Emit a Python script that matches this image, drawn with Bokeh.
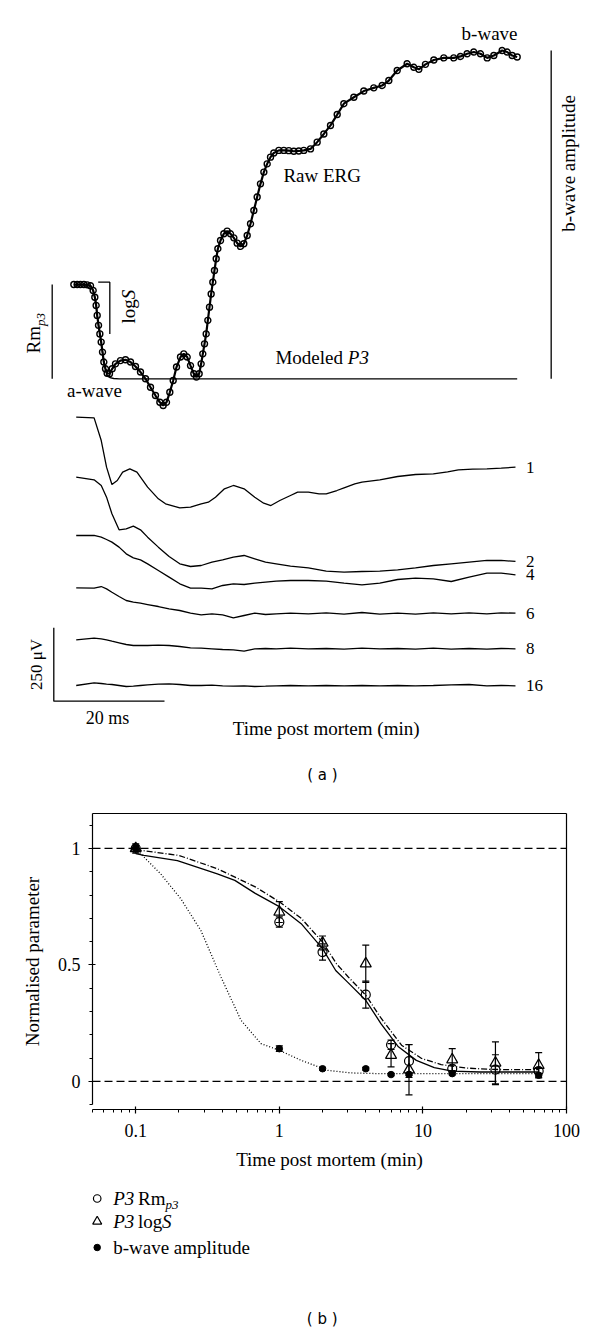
import numpy as np
from bokeh.plotting import figure
from bokeh.models import (Range1d, ColumnDataSource, Whisker, Span, FixedTicker,
                          CustomJSTickFormatter, LinearAxis, TeeHead)
from bokeh.layouts import column
from bokeh.embed import file_html
from bokeh.resources import INLINE
from bokeh.core.properties import value

SERIF = "Liberation Serif"

# ---------------- Panel (a) data: time (ms), voltage (uV) ----------------
raw_t = [-0.21, 0.4, 0.99, 1.6, 2.20, 2.80, 3.28, 3.58, 3.82, 4.01, 4.25, 4.49, 4.73, 4.97, 5.21, 5.51,
         5.81, 6.23, 6.72, 7.32, 8.22, 9.12, 10.03, 10.93, 11.83, 12.74, 13.64, 14.54, 15.33,
         15.93, 16.53, 17.13, 17.74, 18.34, 19.06, 19.66, 20.27, 20.87, 21.47, 21.95, 22.43,
         22.79, 23.09, 23.40, 23.70, 24.00, 24.30, 24.60, 24.90, 25.20, 25.51, 25.81, 26.29,
         26.89, 27.49, 28.09, 28.70, 29.30, 29.90, 30.50, 31.11, 31.71, 32.31, 32.91, 33.51,
         34.12, 34.72, 35.32, 35.92, 36.83, 37.73, 38.63, 39.53, 40.43, 41.34, 42.55, 43.75,
         44.96, 46.16, 47.37, 48.57, 50.38, 52.18, 53.99, 55.50, 56.70, 58.21, 60.01, 61.22,
         62.12, 63.32, 64.83, 66.64, 68.44, 69.65, 70.85, 72.06, 73.26, 74.47, 75.67, 77.18,
         78.08, 78.98, 79.89]
raw_v = [321, 321, 321, 321, 320, 317, 301, 278, 250, 216, 182, 153, 125, 91, 57, 34, 19, 17, 34,
         51, 62, 65, 57, 42, 23, 0, -29, -57, -80, -91, -80, -46, -6, 40, 74, 85, 74, 45, 17, 6,
         17, 51, 85, 119, 153, 199, 244, 289, 329, 369, 409, 443, 471, 494, 503, 494, 480, 462,
         451, 460, 488, 528, 573, 619, 664, 704, 732, 755, 769, 778, 778, 777, 775, 776, 778,
         783, 806, 834, 863, 900, 937, 959, 980, 991, 999, 1016, 1050, 1073, 1061, 1054, 1071,
         1086, 1093, 1093, 1098, 1107, 1113, 1107, 1093, 1101, 1118, 1113, 1101, 1096]

p3_t = [-0.21, 2.20, 2.80, 3.28, 3.58, 3.82, 4.01, 4.25, 4.49, 4.73, 4.97, 5.21, 5.51, 5.81,
        6.3, 7.0, 8.0, 10.0, 79.89]
p3_v = [321, 320, 317, 301, 278, 250, 216, 182, 153, 125, 91, 57, 30, 12, 4, 1, 0, 0, 0]

trace1_t = [0.22, 3.45, 4.74, 5.70, 6.67, 7.64, 8.61, 9.90, 11.19, 13.12, 15.06, 16.35, 18.93,
            20.87, 22.80, 24.09, 25.38, 27.00, 28.61, 30.55, 32.48, 34.09, 35.39, 37.00, 38.93,
            40.22, 42.16, 44.10, 45.39, 47.32, 48.61, 50.55, 51.84, 55.07, 58.29, 61.52, 64.74,
            67.32, 69.26, 71.84, 74.42, 77.00, 79.58]
trace1_v = [0, -2.3, -79.5, -170.3, -229.3, -215.7, -187.3, -176, -187.3, -238.4, -278.1,
            -295.2, -308.8, -306.5, -295.2, -289.5, -272.5, -244.1, -232.7, -244.1, -272.5,
            -292.9, -300.9, -283.8, -266.8, -255.4, -255.4, -261.1, -261.1, -249.8, -240.7,
            -227.1, -221.4, -213.4, -202.1, -195.3, -193, -186.2, -179.4, -177.1, -176, -173.7,
            -170.3]

grid_t = [0.22, 3.45, 4.74, 5.70, 6.67, 7.96, 9.25, 10.54, 11.83, 13.12, 15.06, 17.00, 18.93,
          20.87, 22.80, 24.74, 26.67, 28.61, 30.55, 32.48, 34.42, 36.35, 38.93, 42.16, 45.39,
          48.61, 51.84, 55.07, 58.29, 61.52, 64.74, 67.97, 71.20, 74.42, 77.00, 79.58]
trace2_v = [0, -9.1, -28.4, -68.1, -124.9, -179.4, -176, -166.9, -179.4, -204.4, -238.4, -270.2,
            -295.2, -304.3, -300.9, -289.5, -281.6, -272.5, -266.8, -278.1, -289.5, -295.2,
            -303.1, -308.8, -320.2, -323.6, -321.3, -320.2, -315.6, -308.8, -300.9, -295.2,
            -289.5, -283.8, -283.8, -287.2]
trace4_v = [0, 0, -5.7, -13.6, -22.7, -39.7, -62.4, -76.1, -82.9, -96.5, -119.2, -141.9, -164.6,
            -179.4, -179.4, -181.6, -170.3, -164.6, -166.9, -162.3, -158.9, -155.5, -153.3,
            -153.3, -155.5, -162.3, -168, -162.3, -149.9, -145.3, -147.6, -156.7, -141.9,
            -128.3, -128.3, -134]
trace6_v = [0, -1.1, 4.5, -3.4, -14.8, -29.5, -43.1, -48.8, -52.2, -56.8, -63.6, -71.5, -77.2,
            -86.3, -92, -88.6, -92, -102.2, -94.2, -86.3, -90.8, -88.6, -86.3, -88.6, -85.1,
            -89.7, -84, -89.7, -86.3, -89.7, -85.1, -88.6, -85.1, -88.6, -85.1, -86.3]
trace8_v = [0, 5.7, 3.4, 0, -4.5, -10.2, -15.9, -19.3, -19.3, -19.3, -18.2, -19.3, -22.7, -27.2,
            -28.4, -30.7, -32.9, -34.1, -38.6, -30.7, -29.5, -30.7, -28.4, -30.7, -29.5, -31.8,
            -28.4, -30.7, -29.5, -31.8, -28.4, -31.8, -29.5, -31.8, -29.5, -30.7]
trace16_v = [0, 9.1, 6.8, 4.5, 3.4, 0, -3.4, -2.3, 0, 2.3, 4.5, 5.7, 3.4, 0, 0, 1.1, -1.1, -2.3,
             -1.1, -3.4, -2.3, -1.1, 0, -1.1, 0, -1.1, 0, -1.1, 0, -1.1, 0, 2.3, 3.4, -1.1, 0,
             -1.1]
trace_labels = ["1", "2", "4", "6", "8", "16"]
scale_ms = 20
scale_uv = 250

# ---------------- Panel (b) data ----------------
times = [0.1, 1, 2, 4, 6, 8, 16, 32, 64]
rm_mean = [1.0, 0.684, 0.555, 0.372, 0.157, 0.087, 0.054, 0.050, 0.044]
rm_sem = [0.012, 0.022, 0.035, 0.058, 0.020, 0.070, 0.015, 0.064, 0.015]
logs_mean = [1.0, 0.727, 0.594, 0.505, 0.112, 0.050, 0.093, 0.079, 0.069]
logs_sem = [0.02, 0.045, 0.030, 0.080, 0.050, 0.108, 0.047, 0.090, 0.054]
bwave_times = [0.1, 1, 2, 4, 6, 8, 16, 64]
bwave_mean = [1.0, 0.140, 0.054, 0.054, 0.029, 0.030, 0.033, 0.026]
bwave_sem = [0.005, 0.012, 0.006, 0.006, 0.005, 0.005, 0.005, 0.008]

fit_rm_x = [0.1, 0.114, 0.195, 0.37, 0.49, 0.68, 1.0, 1.42, 2.0, 2.47, 3.0, 4.0, 5.1, 6.75,
            9.0, 12.0, 16, 25, 40, 64]
fit_rm_y = [0.978, 0.970, 0.948, 0.891, 0.863, 0.807, 0.750, 0.677, 0.570, 0.476, 0.425,
            0.348, 0.248, 0.148, 0.090, 0.059, 0.044, 0.040, 0.040, 0.040]
fit_logs_x = [0.1, 0.2, 0.37, 0.68, 1.0, 1.42, 2.0, 2.5, 3.0, 4.0, 5.1, 7.1, 9.8, 13.4, 20, 30,
              45, 64]
fit_logs_y = [0.995, 0.970, 0.913, 0.835, 0.771, 0.700, 0.598, 0.505, 0.45, 0.370, 0.272,
              0.155, 0.098, 0.072, 0.057, 0.051, 0.050, 0.050]
fit_bw_x = [0.1, 0.108, 0.149, 0.206, 0.284, 0.392, 0.541, 0.745, 1.0, 1.42, 2.18, 3.16, 5,
            10, 20, 40, 64]
fit_bw_y = [1.0, 0.978, 0.891, 0.784, 0.648, 0.448, 0.262, 0.162, 0.133, 0.090, 0.047, 0.036,
            0.033, 0.033, 0.033, 0.033, 0.033]


def no_align(p):
    try:
        p.frame_align = False
    except AttributeError:
        pass


def txt(p, x, y, s, size="19px", align="center", angle=0.0, style="normal", font=SERIF,
        baseline="middle"):
    p.text([x], [y], text=[s], text_font=value(font), text_font_size=size, text_align=align,
           text_baseline=baseline, angle=angle, text_font_style=style, text_color="black")


# =================== Panel (a) ===================
pa = figure(width=584, height=795, x_range=Range1d(-13.46, 92.05), y_range=Range1d(17.0, 2724.8),
            x_axis_location=None, y_axis_location=None, min_border=0,
            output_backend="svg", toolbar_location=None, outline_line_color=None)
no_align(pa)
for g in pa.grid:
    g.visible = False

OFF_RAW = 1436.3
raw_y = np.array(raw_v) + OFF_RAW
pa.line(p3_t, np.array(p3_v) + OFF_RAW, line_color="black", line_width=1.3)
pa.line(raw_t, raw_y, line_color="black", line_width=2.2)
pa.scatter(raw_t, raw_y, marker="circle", size=6, fill_color=None, line_color="black",
           line_width=1.4)

offsets = [1305.6, 1101.3, 902.6, 724.3, 547.2, 391.7]
series = [(trace1_t, trace1_v), (grid_t, trace2_v), (grid_t, trace4_v), (grid_t, trace6_v),
          (grid_t, trace8_v), (grid_t, trace16_v)]
lab_x, lab_y = [], []
for (tt, vv), off in zip(series, offsets):
    yy = np.array(vv) + off
    pa.line(tt, yy, line_color="black", line_width=1.3)
    lab_x.append(81.5)
    lab_y.append(yy[-1])
pa.text(lab_x, lab_y, text=trace_labels, text_font=value(SERIF), text_font_size="17px",
        text_align="left", text_baseline="middle", text_color="black")

# annotation bars
pa.line([-4.12, -4.12], [OFF_RAW, OFF_RAW + raw_v[0]], line_color="black", line_width=1.3)
pa.line([4.19, 6.29, 6.29], [OFF_RAW + 329, OFF_RAW + 329, OFF_RAW + 153], line_color="black",
        line_width=1.3)
pa.line([86.03, 86.03], [OFF_RAW, OFF_RAW + max(raw_v)], line_color="black", line_width=1.3)

# scale bar
sx0, sy0 = -3.83, 338.2
pa.line([sx0, sx0, sx0 + scale_ms], [sy0 + scale_uv, sy0, sy0], line_color="black",
        line_width=1.3)

txt(pa, 74.9, 2612.4, "b-wave")
txt(pa, 89.16, 2169.6, "b-wave amplitude", angle=np.pi / 2)
txt(pa, 44.66, 2128.8, "Raw ERG")
txt(pa, 36.22, 1509.9, "Modeled", align="left")
txt(pa, 49.29, 1509.9, "P3", align="left", style="italic")
txt(pa, 3.52, 1396.5, "a-wave")
txt(pa, 9.72, 1624.7, "log", align="left", angle=np.pi / 2)
txt(pa, 9.72, 1707.5, "S", align="left", angle=np.pi / 2, style="italic")
txt(pa, -7.44, 1522.5, "Rm", align="left", angle=np.pi / 2)
txt(pa, -6.20, 1616.5, "p3", size="13px", align="left", angle=np.pi / 2, style="italic")
txt(pa, 45.38, 245.2, "Time post mortem (min)")
txt(pa, 5.87, 279.3, "20 ms", size="18px")
txt(pa, -7.01, 463.2, "250 \u03bcV", size="17px", angle=np.pi / 2)
txt(pa, 44.7, 85.2, "( a )", size="15px", font="DejaVu Sans")

# =================== Panel (b) ===================
pb = figure(width=584, height=380, x_axis_type="log", x_range=Range1d(0.05, 100),
            y_range=Range1d(-0.121, 1.15), output_backend="svg", toolbar_location=None,
            min_border_left=92, min_border_right=18, min_border_top=18, min_border_bottom=66,
            outline_line_color=None)
no_align(pb)
pb.grid.visible = False

xa = pb.xaxis[0]
xa.ticker = FixedTicker(ticks=[0.1, 1, 10, 100],
                        minor_ticks=[m * d for d in (0.01, 0.1, 1, 10) for m in range(2, 10)
                                     if 0.05 <= m * d <= 100])
xa.formatter = CustomJSTickFormatter(code="return tick.toString();")
xa.axis_label = "Time post mortem (min)"

ya = pb.yaxis[0]
ya.ticker = FixedTicker(ticks=[0, 0.5, 1],
                        minor_ticks=[-0.1, 0.1, 0.2, 0.3, 0.4, 0.6, 0.7, 0.8, 0.9, 1.1])
ya.formatter = CustomJSTickFormatter(code="return tick.toString();")
ya.bounds = (-0.1, 1.15)
ya.axis_label = "Normalised parameter"

for ax in (xa, ya):
    ax.axis_line_width = 1.2
    ax.major_tick_line_width = 1.2
    ax.minor_tick_line_width = 1.0
    ax.major_tick_in = 3
    ax.major_tick_out = 4
    ax.minor_tick_in = 0
    ax.minor_tick_out = 3
    ax.major_label_text_font = SERIF
    ax.major_label_text_font_size = "18px"
    ax.major_label_text_color = "black"
    ax.axis_label_text_font = SERIF
    ax.axis_label_text_font_size = "19px"
    ax.axis_label_text_font_style = "normal"
    ax.axis_label_text_color = "black"
xa.major_label_standoff = 10
xa.axis_label_standoff = 9
ya.major_label_standoff = 8
ya.axis_label_standoff = 12

for loc in ("above", "right"):
    fa = LinearAxis(ticker=FixedTicker(ticks=[]), major_tick_in=0, major_tick_out=0,
                    minor_tick_in=0, minor_tick_out=0, major_label_text_font_size="0px",
                    axis_line_width=1.2)
    pb.add_layout(fa, loc)

for lvl in (1, 0):
    pb.add_layout(Span(location=lvl, dimension="width", line_color="black", line_width=1.2,
                       line_dash="8 4"))

pb.line(fit_rm_x, fit_rm_y, line_color="black", line_width=1.3)
pb.line(fit_logs_x, fit_logs_y, line_color="black", line_width=1.3, line_dash="6 2 1 2")
pb.line(fit_bw_x, fit_bw_y, line_color="black", line_width=1.3, line_dash="1 2")


def err(xs, m, e):
    src = ColumnDataSource(dict(x=xs, lo=[a - b for a, b in zip(m, e)],
                                hi=[a + b for a, b in zip(m, e)]))
    pb.add_layout(Whisker(base="x", lower="lo", upper="hi", source=src, dimension="height",
                          line_color="black", line_width=1.2,
                          upper_head=TeeHead(size=7, line_width=1.2),
                          lower_head=TeeHead(size=7, line_width=1.2)))


err(times, rm_mean, rm_sem)
err(times, logs_mean, logs_sem)
err(bwave_times, bwave_mean, bwave_sem)

pb.scatter(times, rm_mean, marker="circle", size=9, fill_color=None, line_color="black",
           line_width=1.2)
pb.scatter(times, logs_mean, marker="triangle", size=11, fill_color=None, line_color="black",
           line_width=1.2)
pb.scatter(bwave_times, bwave_mean, marker="circle", size=6.5, fill_color="black",
           line_color="black")

# =================== Legend / caption ===================
pc = figure(width=584, height=153, x_range=Range1d(0, 584), y_range=Range1d(0, 153),
            x_axis_location=None, y_axis_location=None, min_border=0,
            output_backend="svg", toolbar_location=None, outline_line_color=None)
no_align(pc)
for g in pc.grid:
    g.visible = False

pc.scatter([96.7], [130], marker="circle", size=7.5, fill_color=None, line_color="black",
           line_width=1.2)
pc.scatter([96.7], [107], marker="triangle", size=9, fill_color=None, line_color="black",
           line_width=1.2)
pc.scatter([96.7], [81], marker="circle", size=6.5, fill_color="black", line_color="black")
txt(pc, 112.7, 130, "P3", align="left", style="italic")
txt(pc, 137.5, 130, "Rm", align="left")
txt(pc, 165.0, 124.5, "p3", size="13px", align="left", style="italic")
txt(pc, 112.7, 107, "P3", align="left", style="italic")
txt(pc, 137.5, 107, "log", align="left")
txt(pc, 161.5, 107, "S", align="left", style="italic")
txt(pc, 112.7, 81, "b-wave amplitude", align="left")
txt(pc, 321.7, 10, "( b )", size="15px", font="DejaVu Sans")

layout = column(pa, pb, pc)
open("out.html", "w").write(file_html(layout, INLINE))
